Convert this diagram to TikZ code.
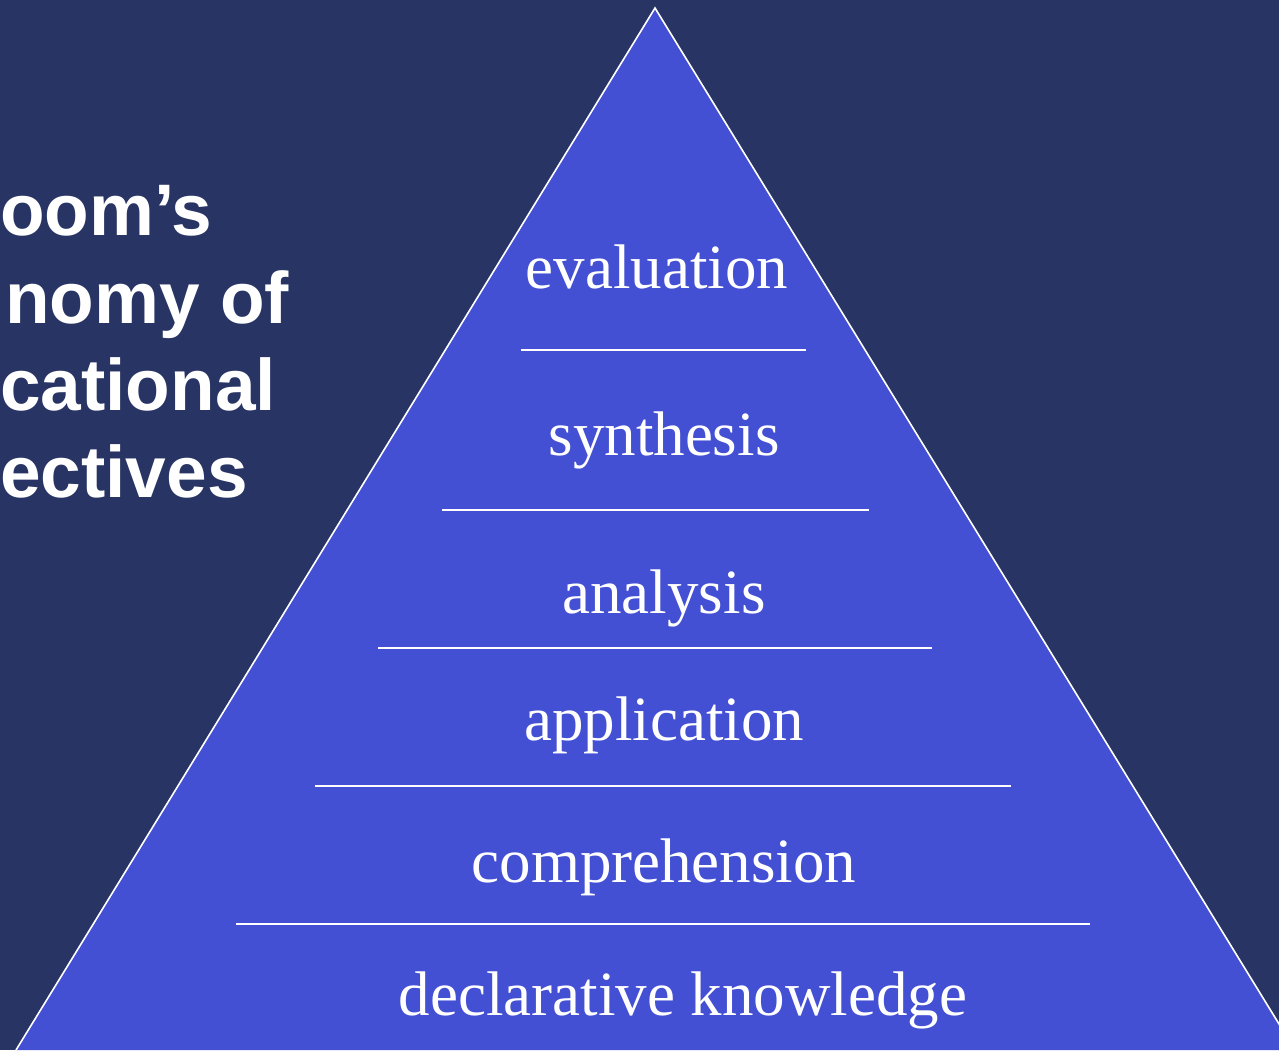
\documentclass[tikz,border=0pt]{standalone}
\usepackage{fontspec}
\setmainfont{Liberation Serif}
\newfontfamily\titlefont{Liberation Sans}
\definecolor{navy}{RGB}{40,52,100}
\definecolor{pyramid}{RGB}{68,80,212}
\begin{document}
\begin{tikzpicture}[x=1pt,y=-1pt,
  level/.style={text=white,anchor=base,inner sep=0pt,font=\fontsize{63}{63}\selectfont},
  heading/.style={text=white,anchor=base west,inner sep=0pt,font=\titlefont\bfseries\fontsize{73}{73}\selectfont},
  divider/.style={white,line width=2pt}]
  % background and page size
  \fill[navy] (0,0) rectangle (1279,1050);
  \useasboundingbox (0,0) rectangle (1279,1050);
  \clip (0,0) rectangle (1279,1050);

  % pyramid
  \coordinate (apex) at (655,8);
  \coordinate (baseL) at (16,1050);
  \coordinate (baseR) at (1295,1050);
  \filldraw[fill=pyramid,draw=white,line width=1.6pt,line join=miter] (baseL) -- (apex) -- (baseR);

  % dividers between levels
  \coordinate (d1a) at (521,350);  \coordinate (d1b) at (806,350);
  \coordinate (d2a) at (442,510);  \coordinate (d2b) at (869,510);
  \coordinate (d3a) at (378,648);  \coordinate (d3b) at (932,648);
  \coordinate (d4a) at (315,786);  \coordinate (d4b) at (1011,786);
  \coordinate (d5a) at (236,924);  \coordinate (d5b) at (1090,924);
  \draw[divider] (d1a) -- (d1b);
  \draw[divider] (d2a) -- (d2b);
  \draw[divider] (d3a) -- (d3b);
  \draw[divider] (d4a) -- (d4b);
  \draw[divider] (d5a) -- (d5b);

  % level labels
  \node[level] (eval) at (657,288) {evaluation};
  \node[level] (synth) at (664,455) {synthesis};
  \node[level] (anal) at (664,613) {analysis};
  \node[level] (appl) at (664,740) {application};
  \node[level] (comp) at (664,882) {comprehension};
  \node[level] (decl) at (683,1015) {declarative knowledge};

  % heading
  \node[heading] (h1) at (0,235) {oom’s};
  \node[heading] (h2) at (5,323) {nomy of};
  \node[heading] (h3) at (0,410) {cational};
  \node[heading] (h4) at (0,497) {ectives};
\end{tikzpicture}
\end{document}
